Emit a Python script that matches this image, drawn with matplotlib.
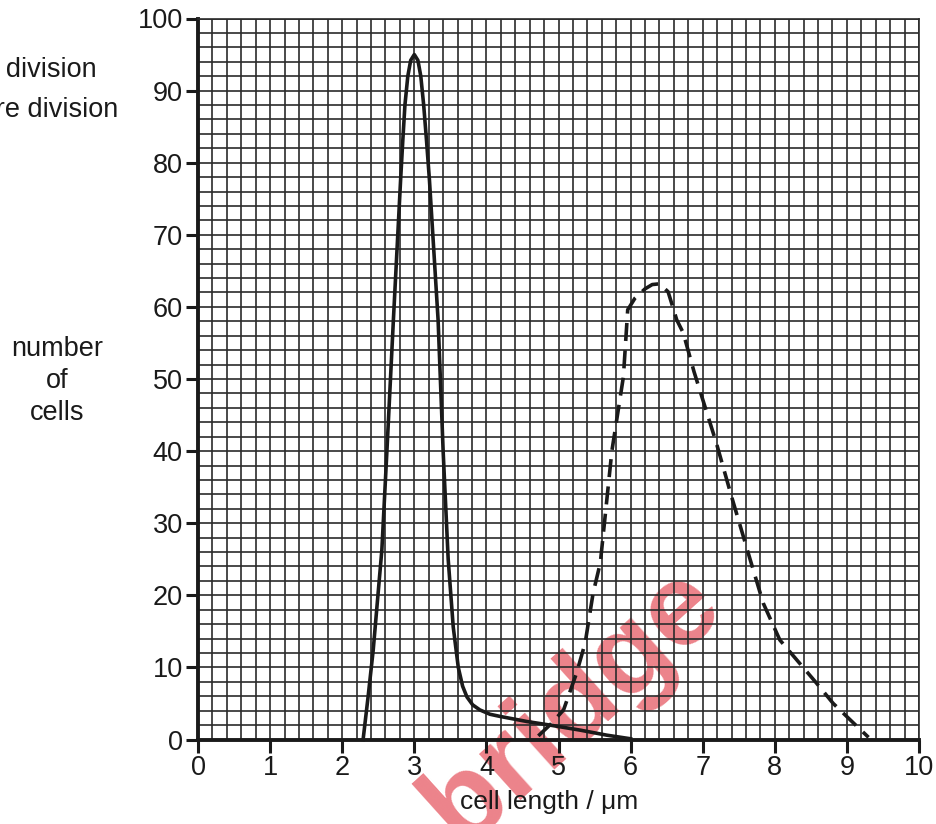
import numpy as np
import matplotlib
matplotlib.use("Agg")
import matplotlib.pyplot as plt

plt.rcParams["font.family"] = ["Liberation Sans", "DejaVu Sans"]

# ── Data ────────────────────────────────────────────────────
# solid curve (narrow peak at 3 µm)
solid_x = [2.29, 2.36, 2.43, 2.55, 2.62, 2.71, 2.81, 2.84, 2.87, 2.91, 2.95,
           3.0, 3.05, 3.09, 3.13, 3.17, 3.21, 3.33, 3.40, 3.47, 3.54, 3.61,
           3.67, 3.73, 3.81, 3.91, 4.05, 4.19, 4.56, 4.88, 5.30, 5.67, 6.0]
solid_y = [0.0, 6.0, 12.4, 26.3, 40.0, 58.2, 77.6, 83.0, 88.0, 92.0, 94.2,
           95.0, 94.2, 92.0, 88.0, 83.0, 77.6, 58.2, 40.0, 25.0, 15.6, 10.0,
           7.4, 5.9, 4.8, 4.1, 3.5, 3.2, 2.5, 2.0, 1.3, 0.6, 0.1]

# dashed curve (broad peak around 6.4 µm)
dash_x = [4.72, 4.90, 5.07, 5.25, 5.37, 5.48, 5.58, 5.74, 5.90, 5.96, 6.06,
          6.20, 6.30, 6.40, 6.52, 6.64, 6.73, 6.88, 7.19, 7.40, 7.66, 7.84,
          8.07, 8.58, 8.81, 9.09, 9.30]
dash_y = [0.5, 2.2, 4.1, 9.2, 13.4, 20.3, 24.5, 40.0, 50.3, 59.6, 61.2,
          62.5, 63.1, 63.2, 62.1, 58.2, 56.4, 51.0, 41.1, 33.7, 24.9, 18.9,
          13.8, 7.8, 5.0, 2.3, 0.3]

x_major = np.arange(0, 11, 1)
y_major = np.arange(0, 101, 10)
x_minor = np.arange(0, 10.01, 0.2)
y_minor = np.arange(0, 100.1, 2)

# ── Figure ──────────────────────────────────────────────────
fig = plt.figure(figsize=(9.36, 8.24), dpi=100)
ax = fig.add_axes([198 / 936, 1 - 739.5 / 824, 721 / 936, 721 / 824])

ax.set_xlim(0, 10)
ax.set_ylim(0, 100)
ax.set_xticks(x_major)
ax.set_yticks(y_major)
ax.set_xticks(x_minor, minor=True)
ax.set_yticks(y_minor, minor=True)
ax.grid(True, which="both", color="#2b2b2b", linewidth=1.2)
ax.tick_params(which="minor", length=0)
ax.tick_params(which="major", length=9, width=2.2, direction="out",
               labelsize=19.5, pad=2, color="#1a1a1a", labelcolor="#1a1a1a")

for side in ("left", "bottom"):
    ax.spines[side].set_linewidth(2.8)
    ax.spines[side].set_color("#1a1a1a")
for side in ("top", "right"):
    ax.spines[side].set_linewidth(1.2)
    ax.spines[side].set_color("#2b2b2b")

ax.plot(solid_x, solid_y, color="#1a1a1a", linewidth=2.6, zorder=3,
        solid_joinstyle="round", clip_on=False)
ax.plot(dash_x, dash_y, color="#1a1a1a", linewidth=2.6, zorder=3,
        dashes=(5.0, 2.6), clip_on=False)

# watermark behind everything
ax.text(5.2, 4.6, "bridge", fontsize=84, fontweight="bold", color="#e0303c",
        alpha=0.6, rotation=42, ha="center", va="center", zorder=0.5,
        clip_on=False)

ax.set_xlabel("cell length / \u03bcm", fontsize=19, labelpad=8,
              color="#1a1a1a")
ax.xaxis.set_label_coords(0.487, -0.07, transform=None)
ax.xaxis.label.set_transform(ax.transAxes)
fig.text(57 / 936, 1 - 381 / 824, "number\nof\ncells", fontsize=19.5,
         ha="center", va="center", linespacing=1.3, color="#1a1a1a")

# legend text, cut off at the left edge of the picture
fig.text(97 / 936, 1 - 70 / 824, "cells just after division", fontsize=19.5,
         ha="right", va="center", color="#1a1a1a")
fig.text(118 / 936, 1 - 110 / 824, "cells just before division",
         fontsize=19.5, ha="right", va="center", color="#1a1a1a")

fig.savefig("out.png", dpi=100, facecolor="white")
